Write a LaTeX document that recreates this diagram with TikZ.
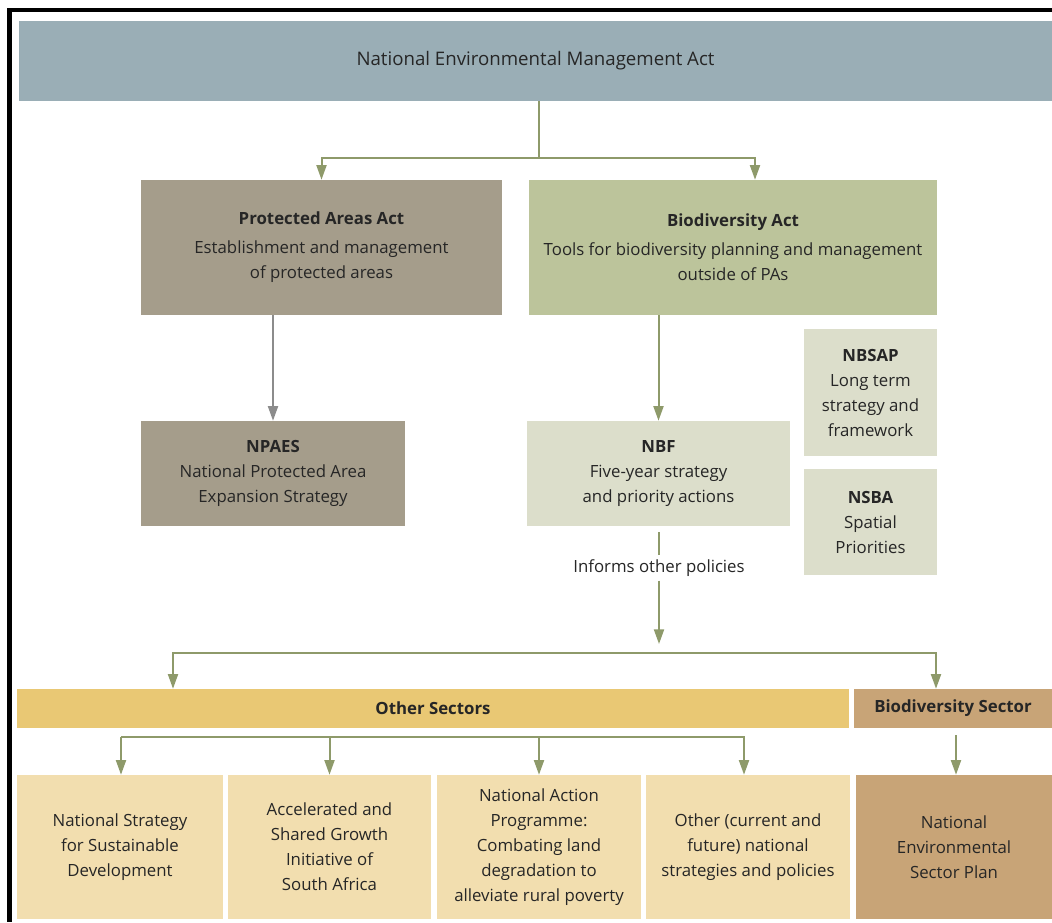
\documentclass[tikz,border=0pt]{standalone}
\usepackage{fontspec}
\setmainfont{Open Sans}
\usetikzlibrary{arrows.meta,calc}
\definecolor{nemac}{HTML}{9AAEB6}
\definecolor{pac}{HTML}{A59D8B}
\definecolor{bioc}{HTML}{BCC49B}
\definecolor{nbfc}{HTML}{DCDECB}
\definecolor{othc}{HTML}{E9C874}
\definecolor{bsc}{HTML}{C8A477}
\definecolor{lowc}{HTML}{F2DEAF}
\definecolor{arrc}{HTML}{8E9A6A}
\definecolor{greyarr}{HTML}{8C8C8C}
\definecolor{txtc}{HTML}{262626}
\tikzset{
  box/.style={rectangle, inner sep=0pt, align=center, text=txtc, font=\fontsize{12.6}{18.75}\selectfont},
  conn/.style={draw=arrc, line width=1.5pt},
  arr/.style={conn, -{Triangle[width=7.5pt,length=11pt]}},
  garr/.style={draw=greyarr, line width=1.5pt, -{Triangle[width=7.5pt,length=11pt]}},
}
\begin{document}
\begin{tikzpicture}[x=0.75pt,y=-0.75pt]
\useasboundingbox (0,0) rectangle (1052,922);
\fill[white] (0,0) rectangle (1052,922);
% black frame
\fill[black] (7,8) rectangle (1052,12);
\fill[black] (7,8) rectangle (12,922);

% nodes
\node[box, fill=nemac, minimum width=774.75pt, minimum height=60pt, font=\fontsize{14}{18.75}\selectfont] (nema) at (535.5,61) {National Environmental Management Act};
\node[box, fill=pac, minimum width=270.75pt, minimum height=101.25pt] (pa) at (321.5,247.5) {\textbf{Protected Areas Act}\\[3pt]Establishment and management\\of protected areas};
\node[box, fill=bioc, minimum width=306pt, minimum height=101.25pt] (bio) at (733,247.5) {\textbf{Biodiversity Act}\\[3pt]Tools for biodiversity planning and management\\outside of PAs};
\node[box, fill=pac, minimum width=198pt, minimum height=78.75pt] (npaes) at (273,473.5) {\textbf{NPAES}\\National Protected Area\\Expansion Strategy};
\node[box, fill=nbfc, minimum width=197.25pt, minimum height=78.75pt] (nbf) at (658.5,473.5) {\textbf{NBF}\\Five-year strategy\\and priority actions};
\node[box, fill=nbfc, minimum width=99.75pt, minimum height=95.25pt] (nbsap) at (870.5,392.5) {\textbf{NBSAP}\\Long term\\strategy and\\framework};
\node[box, fill=nbfc, minimum width=99.75pt, minimum height=79.5pt] (nsba) at (870.5,522) {\textbf{NSBA}\\Spatial\\Priorities};
\node[box, text=txtc] (inf) at (659,568) {Informs other policies};
\node[box, fill=othc, minimum width=624pt, minimum height=29.25pt] (oth) at (433,708.5) {\textbf{Other Sectors}};
\node[box, fill=bsc, minimum width=148.5pt, minimum height=29.25pt] (bs) at (953,708.5) {\textbf{Biodiversity Sector}};
\node[box, fill=lowc, minimum width=154.5pt, minimum height=108pt] (b1) at (120,847) {National Strategy\\for Sustainable\\Development};
\node[box, fill=lowc, minimum width=152.25pt, minimum height=108pt] (b2) at (329.5,847) {Accelerated and\\Shared Growth\\Initiative of\\South Africa};
\node[box, fill=lowc, minimum width=153pt, minimum height=108pt] (b3) at (539,847) {National Action\\Programme:\\Combating land\\degradation to\\alleviate rural poverty};
\node[box, fill=lowc, minimum width=153pt, minimum height=108pt] (b4) at (748,847) {Other (current and\\future) national\\strategies and policies};
\node[box, fill=bsc, minimum width=147pt, minimum height=108pt] (b5) at (954,847) {National\\Environmental\\Sector Plan};

% junctions
\coordinate (j1) at (539,158);
\coordinate (j2) at (659,653);
\coordinate (j3) at (121,737);
\coordinate (j4) at (745,737);

% connectors
\draw[conn] (nema.south -| j1) -- (j1);
\draw[arr] (j1) -| (pa.north);
\draw[arr] (j1) -| ($(bio.north)+(22,0)$);
\draw[garr] (npaes.north |- pa.south) -- (npaes.north);
\draw[arr] (nbf.north |- bio.south) -- (nbf.north);
\draw[conn] ($(nbf.south)+(0.5,6)$) -- ($(inf.north)+(0,-4)$);
\draw[arr] ($(inf.south)+(0,4)$) -- ($(j2)+(0,-9)$);
\draw[arr] (j2) -| ($(oth.north)+(-260,0)$);
\draw[arr] (j2) -| ($(bs.north)+(-17,0)$);
\draw[conn] (j3) -- (j4);
\draw[arr] (j3) -- (b1.north -| j3);
\draw[arr] (b2.north |- j3) -- (b2.north);
\draw[arr] (b3.north |- j3) -- (b3.north);
\draw[arr] (j4 -| 744,0) -- (b4.north -| 744,0);
\draw[arr] ($(bs.south)+(3,7)$) -- (b5.north -| 956,0);
\end{tikzpicture}
\end{document}
